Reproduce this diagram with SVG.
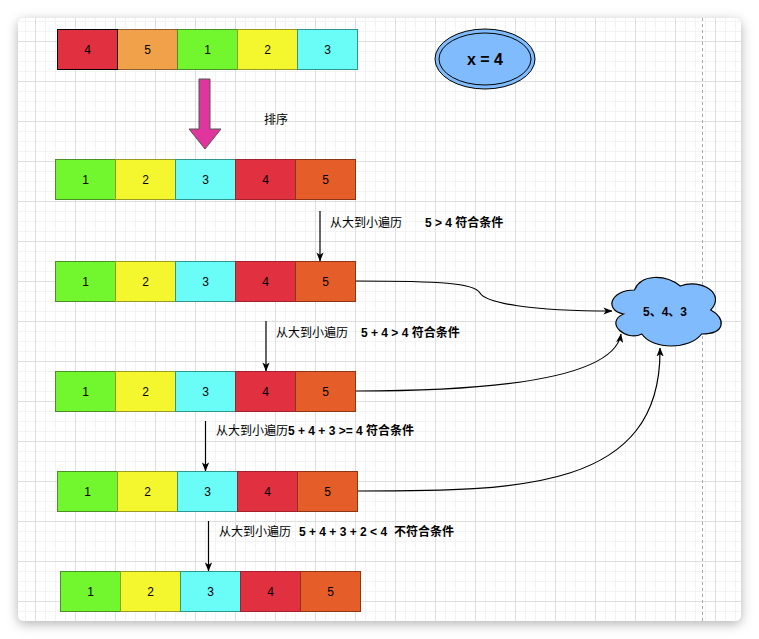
<svg xmlns="http://www.w3.org/2000/svg" width="759" height="639" viewBox="0 0 759 639">
<style>
.cell text, text.n{font-family:"Liberation Sans","Noto Sans CJK SC",sans-serif;font-size:12px;text-anchor:middle;fill:#000}
.lbl{font-family:"Liberation Sans","Noto Sans CJK SC",sans-serif;font-size:12px;fill:#000}
.b{font-weight:bold}
.g{fill:#72f72f;stroke:#4c8f25}
.y{fill:#f4f72e;stroke:#9a9a22}
.c{fill:#6afcf7;stroke:#2e9690}
.r{fill:#e1303f;stroke:#a3202c}
.o{fill:#e55e2a;stroke:#8e3515}
.or{fill:#f0a149;stroke:#8a6030}
.edge{fill:none;stroke:#000;stroke-width:1.2}
</style>
<defs>
<filter id="sh" x="-10%" y="-10%" width="120%" height="120%">
<feDropShadow dx="0" dy="3" stdDeviation="6" flood-color="#000" flood-opacity="0.3"/>
</filter>
<pattern id="minor" patternUnits="userSpaceOnUse" x="5" y="1" width="10" height="10">
<path d="M0.5,0 V10 M0,0.5 H10" stroke="#f3f3f3" stroke-width="1" fill="none"/>
</pattern>
<pattern id="major" patternUnits="userSpaceOnUse" x="35" y="1" width="40" height="40">
<path d="M0.5,0 V40 M0,0.5 H40" stroke="#dedede" stroke-width="1" fill="none"/>
</pattern>
<clipPath id="pg"><rect x="18" y="18" width="723" height="603" rx="6"/></clipPath>
<marker id="ah" viewBox="0 0 10 8" refX="9.5" refY="4" markerWidth="9" markerHeight="7.2" markerUnits="userSpaceOnUse" orient="auto">
<path d="M0,0 L10,4 L0,8 L2.5,4 Z" fill="#000"/>
</marker>
</defs>
<rect x="0" y="0" width="759" height="639" fill="#ffffff"/>
<rect x="18" y="18" width="723" height="603" rx="6" fill="#fff" filter="url(#sh)"/>
<g clip-path="url(#pg)">
<rect x="18" y="18" width="723" height="603" fill="url(#minor)"/>
<rect x="18" y="18" width="723" height="603" fill="url(#major)"/>
<line x1="702.5" y1="18" x2="702.5" y2="621" stroke="#aaa" stroke-dasharray="3,3"/>
</g>

<g id="row1" class="cell">
<rect class="or" x="117.5" y="29.5" width="60" height="40"/>
<rect class="g" x="177.5" y="29.5" width="60" height="40"/>
<rect class="y" x="237.5" y="29.5" width="60" height="40"/>
<rect class="c" x="297.5" y="29.5" width="60" height="40"/>
<rect x="57.5" y="29.5" width="60" height="40" fill="#e1303f" stroke="#000"/>
<text x="87.5" y="53.5">4</text><text x="147.5" y="53.5">5</text><text x="207.5" y="53.5">1</text><text x="267.5" y="53.5">2</text><text x="327.5" y="53.5">3</text>
</g>

<g id="sortArrow">
<polygon points="199,79 210,79 210,129 221,129 205,149 189,129 199,129" fill="#e0359d" stroke="#555" stroke-width="1"/>
</g>
<g id="sortLabel"><text class="lbl" x="264" y="124">排序</text></g>

<g id="xval">
<ellipse cx="485" cy="59" rx="50" ry="30" fill="#80bcfd" stroke="#000"/>
<ellipse cx="485" cy="59" rx="46" ry="26" fill="none" stroke="#000"/>
<text x="485" y="65" font-family="Liberation Sans, sans-serif" font-size="16" font-weight="bold" text-anchor="middle">x = 4</text>
</g>

<g id="row2" class="cell">
<rect class="g" x="55.5" y="159.5" width="60" height="40"/>
<rect class="y" x="115.5" y="159.5" width="60" height="40"/>
<rect class="c" x="175.5" y="159.5" width="60" height="40"/>
<rect class="r" x="235.5" y="159.5" width="60" height="40"/>
<rect class="o" x="295.5" y="159.5" width="60" height="40"/>
<text x="85.5" y="183.5">1</text><text x="145.5" y="183.5">2</text><text x="205.5" y="183.5">3</text><text x="265.5" y="183.5">4</text><text x="325.5" y="183.5">5</text>
</g>

<g id="row3" class="cell">
<rect class="g" x="55.5" y="261.5" width="60" height="40"/>
<rect class="y" x="115.5" y="261.5" width="60" height="40"/>
<rect class="c" x="175.5" y="261.5" width="60" height="40"/>
<rect class="r" x="235.5" y="261.5" width="60" height="40"/>
<rect class="o" x="295.5" y="261.5" width="60" height="40"/>
<text x="85.5" y="285.5">1</text><text x="145.5" y="285.5">2</text><text x="205.5" y="285.5">3</text><text x="265.5" y="285.5">4</text><text x="325.5" y="285.5">5</text>
</g>

<g id="row4" class="cell">
<rect class="g" x="55.5" y="371.5" width="60" height="40"/>
<rect class="y" x="115.5" y="371.5" width="60" height="40"/>
<rect class="c" x="175.5" y="371.5" width="60" height="40"/>
<rect class="r" x="235.5" y="371.5" width="60" height="40"/>
<rect class="o" x="295.5" y="371.5" width="60" height="40"/>
<text x="85.5" y="395.5">1</text><text x="145.5" y="395.5">2</text><text x="205.5" y="395.5">3</text><text x="265.5" y="395.5">4</text><text x="325.5" y="395.5">5</text>
</g>

<g id="row5" class="cell">
<rect class="g" x="57.5" y="471.5" width="60" height="40"/>
<rect class="y" x="117.5" y="471.5" width="60" height="40"/>
<rect class="c" x="177.5" y="471.5" width="60" height="40"/>
<rect class="r" x="237.5" y="471.5" width="60" height="40"/>
<rect class="o" x="297.5" y="471.5" width="60" height="40"/>
<text x="87.5" y="495.5">1</text><text x="147.5" y="495.5">2</text><text x="207.5" y="495.5">3</text><text x="267.5" y="495.5">4</text><text x="327.5" y="495.5">5</text>
</g>

<g id="row6" class="cell">
<rect class="g" x="60.5" y="571.5" width="60" height="40"/>
<rect class="y" x="120.5" y="571.5" width="60" height="40"/>
<rect class="c" x="180.5" y="571.5" width="60" height="40"/>
<rect class="r" x="240.5" y="571.5" width="60" height="40"/>
<rect class="o" x="300.5" y="571.5" width="60" height="40"/>
<text x="90.5" y="595.5">1</text><text x="150.5" y="595.5">2</text><text x="210.5" y="595.5">3</text><text x="270.5" y="595.5">4</text><text x="330.5" y="595.5">5</text>
</g>

<g id="result">
<path d="M634.5,290 C610.1,290 604,310 623.5,314 C604,322.8 626,342 641.8,334 C652.8,350 689.4,350 701.6,334 C726,334 726,318 710.75,310 C726,294 701.6,278 680.25,286 C665,274 640.6,274 634.5,290 Z" fill="#80bcfd" stroke="#000" stroke-width="1.2"/>
<text x="665" y="316" font-family="Liberation Sans, Noto Sans CJK SC, sans-serif" font-size="12" font-weight="bold" text-anchor="middle">5、4、3</text>
</g>

<g id="labels">
<text class="lbl" x="330" y="227">从大到小遍历<tspan class="b" x="425">5 &gt; 4 符合条件</tspan></text>
<text class="lbl" x="276" y="337">从大到小遍历<tspan class="b" x="361">5 + 4 &gt; 4 符合条件</tspan></text>
<text class="lbl" x="216" y="435">从大到小遍历<tspan class="b">5 + 4 + 3 &gt;= 4 符合条件</tspan></text>
<text class="lbl" x="219" y="536">从大到小遍历<tspan class="b" x="299">5 + 4 + 3 + 2 &lt; 4</tspan><tspan class="b" x="394">不符合条件</tspan></text>
</g>

<g id="connectors">
<line class="edge" x1="320" y1="211" x2="320" y2="261" marker-end="url(#ah)"/>
<line class="edge" x1="266" y1="321" x2="266" y2="371" marker-end="url(#ah)"/>
<line class="edge" x1="205.5" y1="421" x2="205.5" y2="471" marker-end="url(#ah)"/>
<line class="edge" x1="208.5" y1="521" x2="208.5" y2="571" marker-end="url(#ah)"/>
<path class="edge" d="M356,281 C440,281 474,283 480,293 C486,303 530,311 612,311" marker-end="url(#ah)"/>
<path class="edge" d="M356,391 C500,391 614,378 621,334" marker-end="url(#ah)"/>
<path class="edge" d="M358,491 C520,491 662,490 660,348" marker-end="url(#ah)"/>
</g>
</svg>
